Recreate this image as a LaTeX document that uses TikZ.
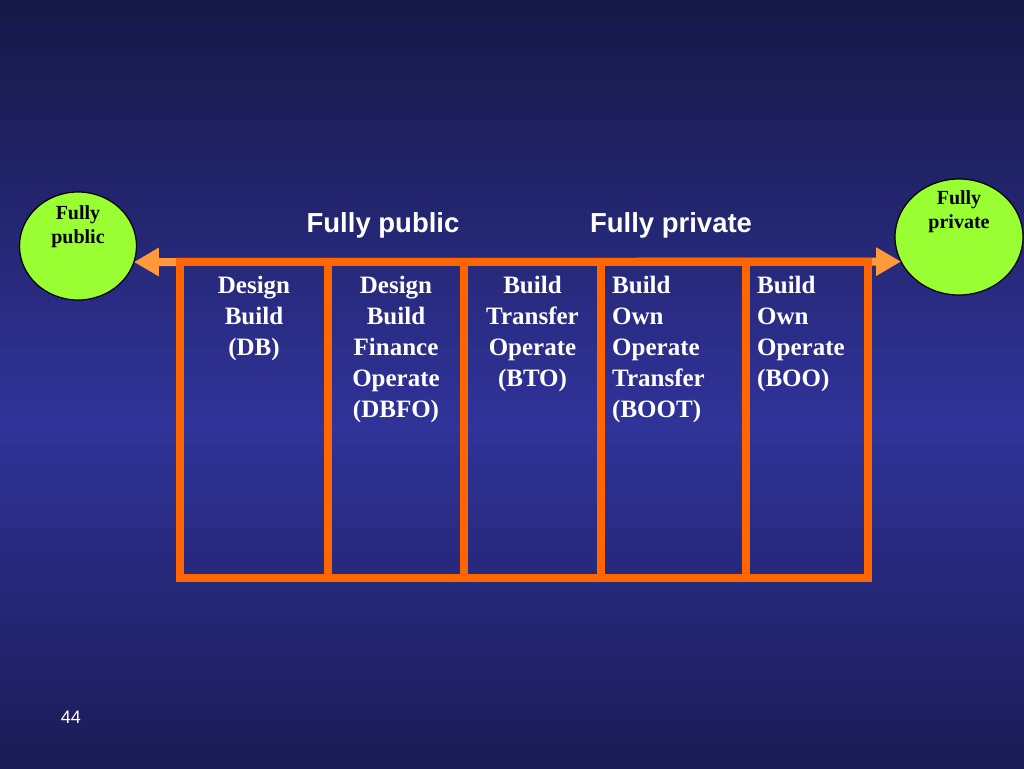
\documentclass[tikz,border=0pt]{standalone}
\usepackage{fontspec}
\setmainfont{Liberation Serif}
\newfontfamily\headfont{Liberation Sans}
\usetikzlibrary{positioning,arrows.meta,shapes.geometric}
\definecolor{slidetop}{HTML}{161847}
\definecolor{slidemid}{HTML}{303399}
\definecolor{slidebot}{HTML}{1B1B57}
\definecolor{boxorange}{HTML}{FF6600}
\definecolor{arroworange}{HTML}{FF9A3C}
\definecolor{lime}{HTML}{99FF33}
\tikzset{col/.style={draw=boxorange,line width=8pt,outer sep=0pt,inner sep=0pt,minimum height=316pt},
  coltext/.style={text=white,font=\bfseries\fontsize{25}{31}\selectfont,inner sep=0pt},
  endcirc/.style={ellipse,draw=black,line width=1.2pt,fill=lime,outer sep=0pt,inner sep=0pt},
  circtext/.style={font=\bfseries\fontsize{20}{24}\selectfont,align=center,inner sep=0pt},
  headtitle/.style={text=white,font=\headfont\bfseries\fontsize{27.5}{32}\selectfont,inner sep=0pt}}

\begin{document}
\begin{tikzpicture}[x=1pt,y=-1pt,>=Latex]
    % background bands, dark at top and bottom
    \foreach \i in {0,...,63}{
      \pgfmathsetmacro{\t}{\i/63}
      \pgfmathsetmacro{\p}{\t<0.55 ? 100*(1-\t/0.55) : 100*(\t-0.55)/0.45}
      \ifdim\t pt<0.55pt \colorlet{band}{slidetop!\p!slidemid}\else\colorlet{band}{slidebot!\p!slidemid}\fi
      \fill[band](0,\i*12)rectangle(1024,\i*12+12.5);}
    \useasboundingbox (0,0) rectangle (1024,768);
    % end points of the scale
    \node[endcirc,minimum width=117pt,minimum height=108pt] (pub) at (78,246) {};
    \node[circtext] (pubtext) at ([yshift=19pt]pub.center) {Fully\\public};
    \node[endcirc,minimum width=128pt,minimum height=116pt] (priv) at (959,237) {};
    \node[circtext] (privtext) at ([yshift=25pt]priv.center) {Fully\\private};
    \draw[<->,line width=8pt,arroworange,>={Triangle[length=25pt,width=27pt]}] (pub.-16)--(priv.203);
    \node[headtitle] (pubtitle) at (383,225) {Fully public};
    \node[headtitle] (privtitle) at (671,225) {Fully private};
    % the five models
    \node[col,minimum width=148pt,anchor=north west] (db) at (180,262) {};
    \node[col,minimum width=136pt,right=0pt of db] (dbfo) {};
    \node[col,minimum width=137pt,right=0pt of dbfo] (bto) {};
    \node[col,minimum width=145pt,right=0pt of bto] (boot) {};
    \node[col,minimum width=122pt,right=0pt of boot] (boo) {};
    \node[coltext,align=center,anchor=north] (dbtext) at ([yshift=-14pt]db.north) {Design\\Build\\(DB)};
    \node[coltext,align=center,anchor=north] (dbfotext) at ([yshift=-14pt]dbfo.north) {Design\\Build\\Finance\\Operate\\(DBFO)};
    \node[coltext,align=center,anchor=north] (btotext) at ([yshift=-14pt]bto.north) {Build\\Transfer\\Operate\\(BTO)};
    \node[coltext,align=left,anchor=north west] (boottext) at ([xshift=11pt,yshift=-14pt]boot.north west) {Build\\Own\\Operate\\Transfer\\(BOOT)};
    \node[coltext,align=left,anchor=north west] (bootext) at ([xshift=11pt,yshift=-14pt]boo.north west) {Build\\Own\\Operate\\(BOO)};
    \node[text=white,font=\headfont\fontsize{18}{22}\selectfont] (pagenum) at (71,717) {44};
\end{tikzpicture}
\end{document}
